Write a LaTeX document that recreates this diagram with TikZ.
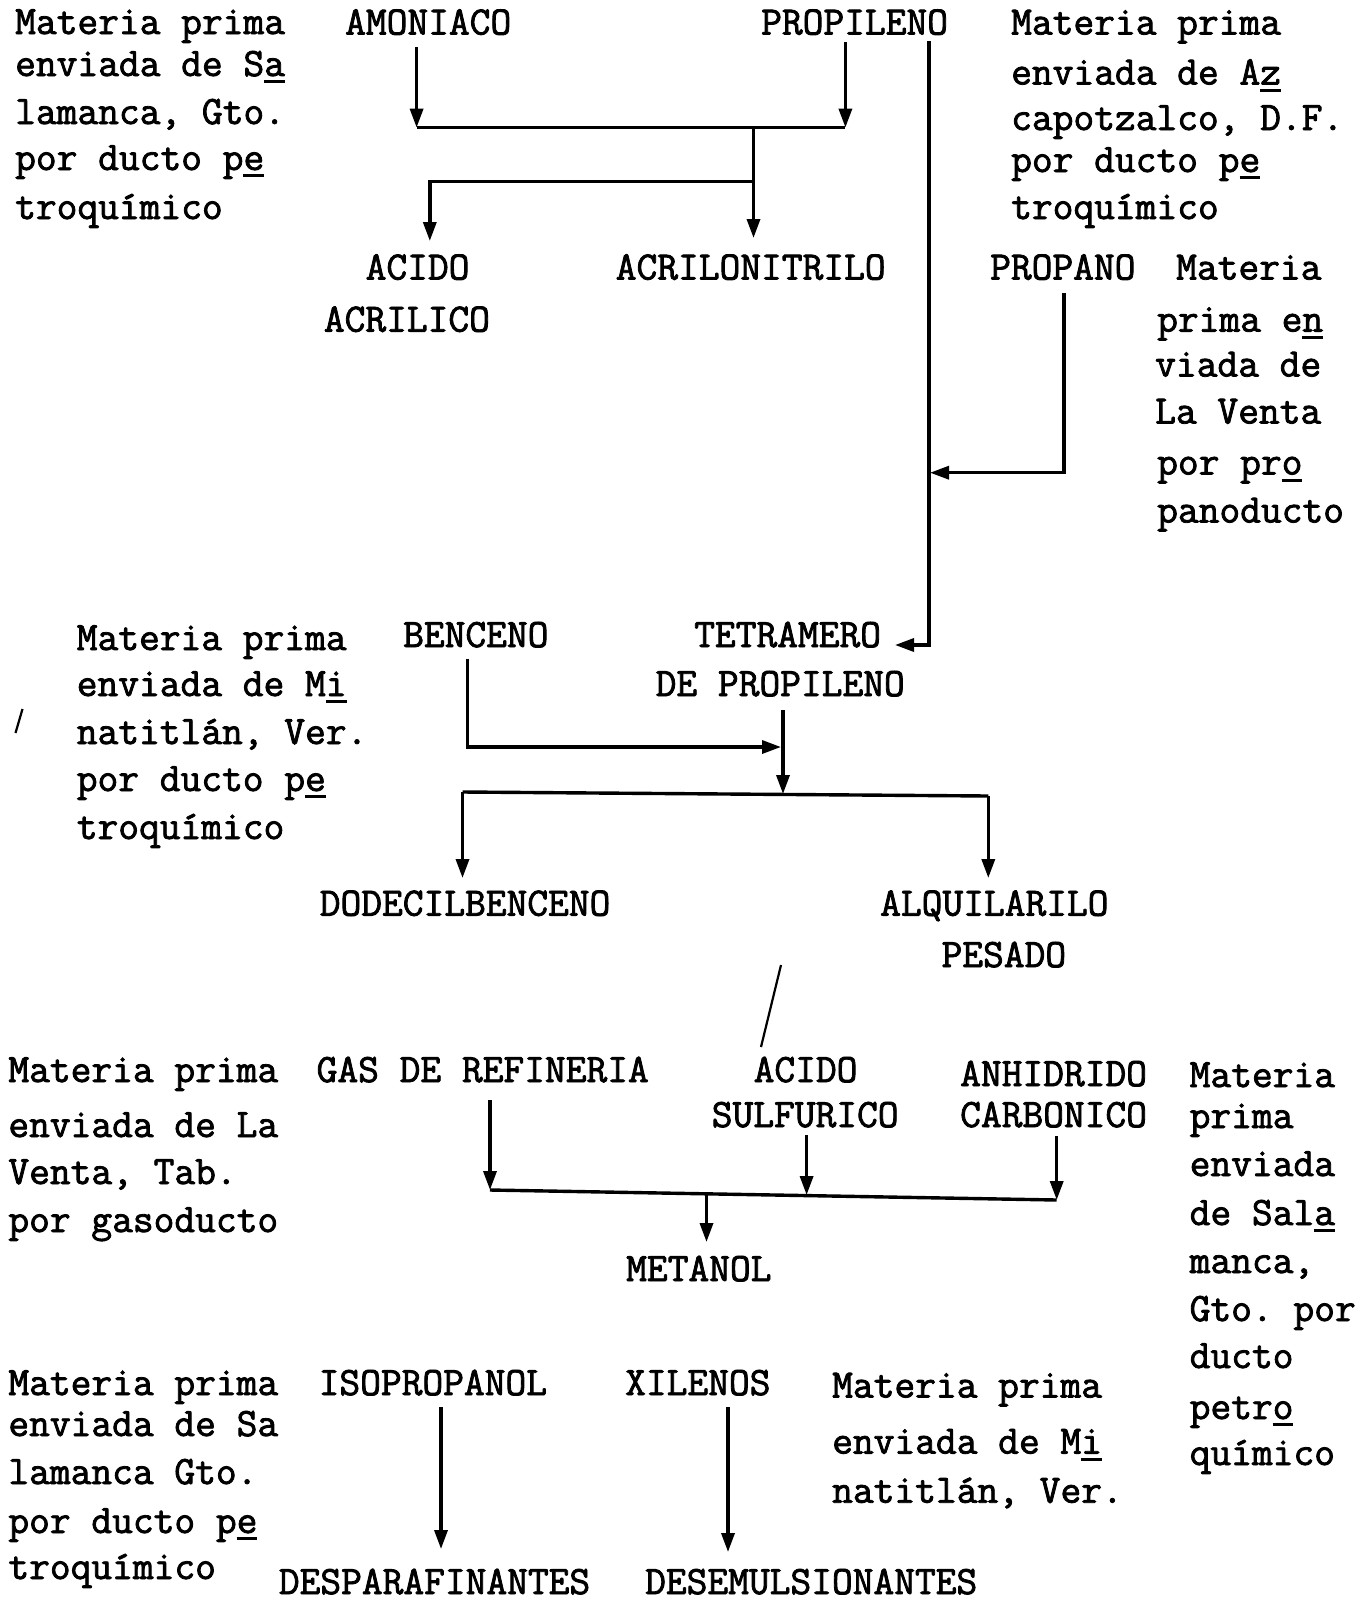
\documentclass[tikz,border=0pt]{standalone}
\usepackage{fontspec}
\setmonofont{Latin Modern Mono}[FakeBold=2]
\usetikzlibrary{arrows.meta}
% typed underline under a single character
\newcommand{\typeul}[1]{\setbox0\hbox{#1}\rlap{\rule[-7pt]{\wd0}{2.6pt}}\box0}
\tikzset{
  txt/.style={anchor=base west, inner sep=0pt, font=\ttfamily\fontsize{40.3}{47}\selectfont},
  pipe/.style={line width=3.4pt},
  arr/.style={pipe, -{Triangle[width=13pt,length=19pt]}},
  pencil/.style={line width=2.2pt}
}
\begin{document}
\begin{tikzpicture}[x=1pt,y=-1pt]
\fill[white] (0,0) rectangle (1368,1601);
\useasboundingbox (0,0) rectangle (1368,1601);

% ---------- acrylics group ----------
\node[txt] (tl1) at (15,34) {Materia prima};
\node[txt] (tl2) at (15,76) {enviada de S\typeul{a}};
\node[txt] (tl3) at (15,124) {lamanca, Gto.};
\node[txt] (tl4) at (15,170) {por ducto p\typeul{e}};
\node[txt] (tl5) at (15,219) {troquímico};

\node[txt] (amoniaco) at (345,34.5) {AMONIACO};
\node[txt] (propileno) at (761,34.5) {PROPILENO};

\node[txt] (tr1) at (1011,34.5) {Materia prima};
\node[txt] (tr2) at (1011,84.5) {enviada de A\typeul{z}};
\node[txt] (tr3) at (1011,130) {capotzalco, D.F.};
\node[txt] (tr4) at (1011,172) {por ducto p\typeul{e}};
\node[txt] (tr5) at (1011,219) {troquímico};

\node[txt] (acido1) at (365.5,279.5) {ACIDO};
\node[txt] (acido2) at (323.7,331.6) {ACRILICO};
\node[txt] (acrilonitrilo) at (615.6,279.5) {ACRILONITRILO};

\coordinate (sA) at (416.6,47);
\coordinate (jA) at (416.6,127.6);
\coordinate (sP) at (845.4,42);
\coordinate (jP) at (845.4,127.6);
\coordinate (jM) at (753.5,127.6);
\coordinate (jB) at (753.5,181.7);
\coordinate (eN) at (753.5,238);
\coordinate (jC) at (429.8,181.7);
\coordinate (eC) at (429.8,241);

\draw[arr] (sA) -- (jA);
\draw[arr] (sP) -- (jP);
\draw[pipe] (jA) -- (jP);
\draw[arr] (jM) -- (eN);
\draw[arr] (jB) -| (eC);

% ---------- propylene and propane lines ----------
\node[txt] (propano) at (990,279.5) {PROPANO};
\node[txt] (pr1) at (1176,279.5) {Materia};
\node[txt] (pr2) at (1157,331.6) {prima e\typeul{n}};
\node[txt] (pr3) at (1155,376.5) {viada de};
\node[txt] (pr4) at (1155,423.5) {La Venta};
\node[txt] (pr5) at (1157,474.5) {por pr\typeul{o}};
\node[txt] (pr6) at (1157,522.5) {panoducto};

\coordinate (sL) at (929,41);
\coordinate (jL) at (929,645);
\coordinate (eT) at (895,645);
\coordinate (sQ) at (1064,293);
\coordinate (jQ) at (1064,472.7);
\coordinate (eQ) at (930,472.7);

\draw[arr] (sL) -- (jL) -- (eT);
\draw[arr] (sQ) -- (jQ) -- (eQ);

% ---------- alkylation group ----------
\node[txt] (ml1) at (76.6,650) {Materia prima};
\node[txt] (ml2) at (76.6,696) {enviada de M\typeul{i}};
\node[txt] (ml3) at (76.6,744) {natitlán, Ver.};
\node[txt] (ml4) at (76.6,791) {por ducto p\typeul{e}};
\node[txt] (ml5) at (76.6,839) {troquímico};

\node[txt] (benceno) at (403,647) {BENCENO};
\node[txt] (tetra1) at (694,647) {TETRAMERO};
\node[txt] (tetra2) at (655.5,696) {DE PROPILENO};

\node[txt] (dodecil) at (319.6,915.6) {DODECILBENCENO};
\node[txt] (alqui1) at (880,915.6) {ALQUILARILO};
\node[txt] (alqui2) at (941.4,967) {PESADO};

\coordinate (sB) at (467.6,658.5);
\coordinate (jBn) at (467.6,747);
\coordinate (eB) at (781,747);
\coordinate (sT) at (783,710);
\coordinate (jT) at (783,794);
\coordinate (jD) at (462.5,792);
\coordinate (eD) at (462.5,878);
\coordinate (jAl) at (988.3,796);
\coordinate (eAl) at (988.3,878);

\draw[arr] (sB) -- (jBn) -- (eB);
\draw[arr] (sT) -- (jT);
\draw[pipe] (jD) -- (jAl);
\draw[arr] (jD) -- (eD);
\draw[arr] (jAl) -- (eAl);

% stray pencil strokes
\draw[pencil] (15.5,733) -- (22.5,709);
\draw[pencil] (781,965) -- (761,1047);

% ---------- methanol group ----------
\node[txt] (bl1) at (8.2,1082) {Materia prima};
\node[txt] (bl2) at (8.2,1137) {enviada de La};
\node[txt] (bl3) at (8.2,1184) {Venta, Tab.};
\node[txt] (bl4) at (8.2,1232) {por gasoducto};

\node[txt] (gas) at (316.5,1082) {GAS DE REFINERIA};
\node[txt] (sulf1) at (753.5,1082) {ACIDO};
\node[txt] (sulf2) at (711.6,1127) {SULFURICO};
\node[txt] (anh1) at (960,1086) {ANHIDRIDO};
\node[txt] (anh2) at (960,1127) {CARBONICO};

\node[txt] (rc1) at (1189.5,1087) {Materia};
\node[txt] (rc2) at (1189.5,1128) {prima};
\node[txt] (rc3) at (1189.5,1176) {enviada};
\node[txt] (rc4) at (1189.5,1225) {de Sal\typeul{a}};
\node[txt] (rc5) at (1189.5,1273) {manca,};
\node[txt] (rc6) at (1189.5,1321) {Gto. por};
\node[txt] (rc7) at (1189.5,1368) {ducto};
\node[txt] (rc8) at (1189.5,1419) {petr\typeul{o}};
\node[txt] (rc9) at (1189.5,1465) {químico};

\node[txt] (metanol) at (626,1281) {METANOL};

\coordinate (sG) at (490,1100);
\coordinate (eG) at (490,1190);
\coordinate (sS) at (806.6,1135);
\coordinate (eS) at (806.6,1195);
\coordinate (sC) at (1056.7,1136);
\coordinate (eC2) at (1056.7,1200);
\coordinate (sM) at (706.5,1193);
\coordinate (eM) at (706.5,1242);

\draw[pipe] (eG) -- (eC2);
\draw[arr] (sG) -- (eG);
\draw[arr] (sS) -- (eS);
\draw[arr] (sC) -- (eC2);
\draw[arr] (sM) -- (eM);

% ---------- solvents group ----------
\node[txt] (sl1) at (8.2,1395) {Materia prima};
\node[txt] (sl2) at (8.2,1436) {enviada de Sa};
\node[txt] (sl3) at (8.2,1484) {lamanca Gto.};
\node[txt] (sl4) at (8.2,1533) {por ducto p\typeul{e}};
\node[txt] (sl5) at (8.2,1579) {troquímico};

\node[txt] (isoprop) at (318.5,1395) {ISOPROPANOL};
\node[txt] (xilenos) at (625,1395) {XILENOS};

\node[txt] (sr1) at (832,1397.5) {Materia prima};
\node[txt] (sr2) at (832,1453.6) {enviada de M\typeul{i}};
\node[txt] (sr3) at (832,1502.7) {natitlán, Ver.};

\node[txt] (despar) at (278.7,1594) {DESPARAFINANTES};
\node[txt] (desemul) at (645,1594) {DESEMULSIONANTES};

\coordinate (sI) at (441,1407);
\coordinate (eI) at (441,1549);
\coordinate (sX) at (728,1407);
\coordinate (eX) at (728,1552);

\draw[arr] (sI) -- (eI);
\draw[arr] (sX) -- (eX);
\end{tikzpicture}
\end{document}
